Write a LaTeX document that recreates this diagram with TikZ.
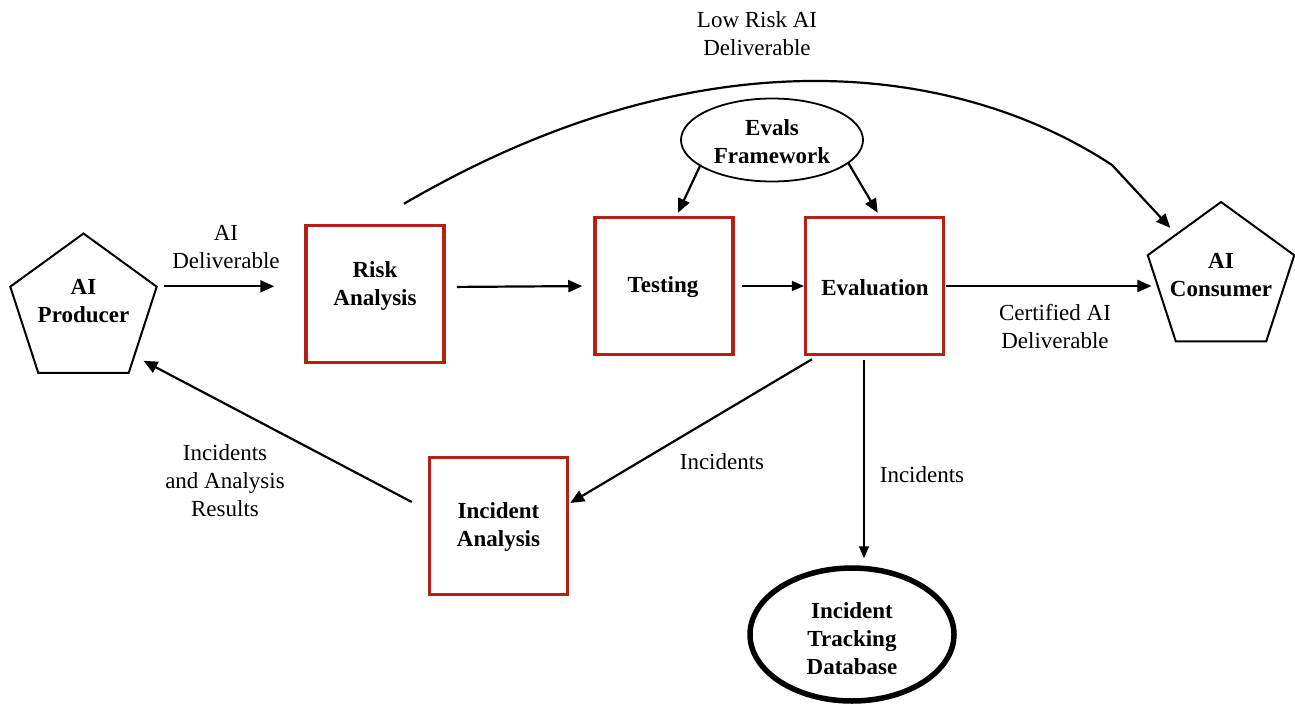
\documentclass[tikz,border=0pt]{standalone}
\usepackage{fontspec}
\setmainfont{Liberation Serif}
\usetikzlibrary{shapes.geometric,arrows.meta}
\definecolor{boxred}{RGB}{178,34,20}
\tikzset{
  stage/.style={draw=boxred, line width=3.5pt, minimum width=138pt, minimum height=137pt, inner sep=0pt},
  party/.style={draw, line width=2pt, regular polygon, regular polygon sides=5, minimum size=154pt, inner sep=0pt},
  title/.style={font=\bfseries\fontsize{23}{28}\selectfont, align=center, inner sep=0pt},
  note/.style={font=\fontsize{23}{28}\selectfont, align=center, inner sep=0pt},
  flow/.style={line width=2.2pt, -{Triangle[length=14pt,width=12pt]}},
  thinflow/.style={line width=1.3pt, -{Triangle[length=12pt,width=10pt]}},
}
\begin{document}
\begin{tikzpicture}[x=1pt,y=-1pt]
\useasboundingbox (0,0) rectangle (1295,706);

% parties
\node[party] (producer) at (83.5,310.5) {};
\node[title] (producerlbl) at (83.5,301.5) {AI\\Producer};
\node[party] (consumer) at (1221,279) {};
\node[title] (consumerlbl) at (1221,275) {AI\\Consumer};

% process stages
\node[stage] (risk) at (375,294) {};
\node[title] (risklbl) at (375,286) {Risk\\Analysis};
\node[stage] (testing) at (664,286) {};
\node[title] (testinglbl) at (663,287) {Testing};
\node[stage] (evaluation) at (874.7,286) {};
\node[title] (evallbl) at (875,288) {Evaluation};
\node[stage] (incident) at (498.5,526) {};
\node[title] (incidentlbl) at (498.5,526.5) {Incident\\Analysis};

% framework and database
\node[draw, ellipse, line width=1.8pt, minimum width=182pt, minimum height=83pt] (evals) at (772,140) {};
\node[title] (evalslbl) at (772,141.5) {Evals\\Framework};
\node[draw, ellipse, line width=5.5pt, minimum width=204pt, minimum height=133pt] (db) at (852,634.5) {};
\node[title] (dblbl) at (852,639) {Incident\\Tracking\\Database};

% main flow
\draw[flow, shorten <=6pt, shorten >=30pt] (producer.corner 5) -- (risk.west |- producer.corner 5);
\draw[flow, shorten <=11pt, shorten >=11pt] ([yshift=7pt]risk.east) -- (testing.west);
\draw[thinflow, shorten <=7pt] (testing.east) -- (evaluation.west);
\draw[flow, shorten <=1pt, shorten >=3pt] (evaluation.east) -- (consumer.west |- evaluation.east);

% framework feeds
\draw[flow] (evals.200) -- ([xshift=14pt,yshift=3pt]testing.north);
\draw[flow] (evals.343) -- ([xshift=3pt,yshift=3pt]evaluation.north);

% low-risk bypass
\coordinate (kink) at (1112,165);
\draw[flow, shorten >=8pt] ([xshift=29pt,yshift=20pt]risk.north) .. controls (705,28) and (960,65) .. (kink) -- (consumer.north west);

% incidents
\draw[flow] ([xshift=8pt,yshift=-3pt]evaluation.south west) -- ([xshift=1pt,yshift=23pt]incident.east);
\draw[thinflow] ([xshift=-10.7pt,yshift=-4pt]evaluation.south) -- ([xshift=12pt,yshift=7pt]db.north);
\draw[flow] ([xshift=-16pt,yshift=24pt]incident.west) -- ([xshift=14pt,yshift=13pt]producer.corner 4);

% connector labels
\node[note] (lowriskl) at (757,34) {Low Risk AI\\Deliverable};
\node[note] (deliverl) at (226,247) {AI\\Deliverable};
\node[note] (certl) at (1055,327) {Certified AI\\Deliverable};
\node[note] (incl) at (722,462) {Incidents};
\node[note] (incdbl) at (922,475) {Incidents};
\node[note] (feedbackl) at (225,481) {Incidents\\and Analysis\\Results};
\end{tikzpicture}
\end{document}
